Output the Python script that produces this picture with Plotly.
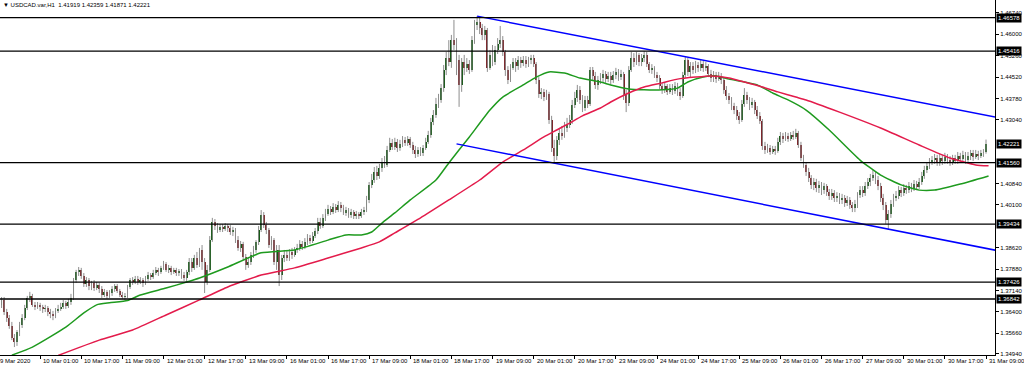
import plotly.graph_objects as go

# ---------------- data (USDCAD.var, H1) ----------------
open_ = [
1.3646,1.3664,1.3681,1.3639,1.3618,1.3591,1.3549,1.3535,1.3570,1.3594,
1.3618,1.3653,1.3688,1.3695,1.3664,1.3657,1.3664,1.3657,1.3650,1.3653,
1.3639,1.3632,1.3625,1.3643,1.3650,1.3657,1.3671,1.3660,1.3674,1.3688,
1.3750,1.3778,1.3785,1.3764,1.3736,1.3750,1.3729,1.3740,1.3722,1.3733,
1.3719,1.3698,1.3709,1.3695,1.3705,1.3719,1.3729,1.3712,1.3698,1.3691,
1.3695,1.3726,1.3750,1.3743,1.3754,1.3743,1.3750,1.3740,1.3754,1.3767,
1.3760,1.3774,1.3785,1.3778,1.3792,1.3805,1.3785,1.3792,1.3778,1.3785,
1.3774,1.3781,1.3767,1.3757,1.3778,1.3812,1.3792,1.3826,1.3802,1.3854,
1.3812,1.3743,1.3785,1.3888,1.3951,1.3937,1.3923,1.3934,1.3927,1.3937,
1.3930,1.3916,1.3923,1.3888,1.3861,1.3875,1.3830,1.3802,1.3812,1.3837,
1.3854,1.3882,1.3923,1.3975,1.3940,1.3923,1.3871,1.3888,1.3812,1.3854,
1.3767,1.3826,1.3837,1.3826,1.3847,1.3837,1.3854,1.3861,1.3875,1.3864,
1.3882,1.3895,1.3885,1.3902,1.3920,1.3951,1.3937,1.3965,1.3978,1.3996,
1.3985,1.4003,1.3992,1.4010,1.3999,1.3982,1.3992,1.3975,1.3985,1.3972,
1.3978,1.3972,1.3985,1.3992,1.4027,1.4079,1.4096,1.4124,1.4110,1.4138,
1.4158,1.4148,1.4200,1.4224,1.4210,1.4228,1.4207,1.4221,1.4235,1.4224,
1.4238,1.4217,1.4200,1.4186,1.4200,1.4190,1.4207,1.4228,1.4252,1.4297,
1.4321,1.4359,1.4373,1.4414,1.4477,1.4518,1.4504,1.4580,1.4563,1.4511,
1.4425,1.4504,1.4484,1.4497,1.4477,1.4580,1.4632,1.4643,1.4622,1.4598,
1.4615,1.4484,1.4529,1.4504,1.4546,1.4567,1.4580,1.4539,1.4477,1.4442,
1.4484,1.4504,1.4490,1.4511,1.4501,1.4511,1.4497,1.4511,1.4518,1.4497,
1.4442,1.4394,1.4401,1.4383,1.4394,1.4304,1.4207,1.4179,1.4235,1.4259,
1.4248,1.4276,1.4286,1.4304,1.4356,1.4380,1.4408,1.4373,1.4345,1.4373,
1.4359,1.4477,1.4456,1.4425,1.4442,1.4449,1.4463,1.4445,1.4456,1.4442,
1.4459,1.4470,1.4452,1.4463,1.4390,1.4363,1.4477,1.4518,1.4504,1.4529,
1.4504,1.4518,1.4529,1.4497,1.4477,1.4484,1.4459,1.4449,1.4421,1.4408,
1.4421,1.4401,1.4414,1.4404,1.4421,1.4401,1.4387,1.4459,1.4511,1.4470,
1.4490,1.4477,1.4494,1.4484,1.4497,1.4484,1.4490,1.4463,1.4449,1.4459,
1.4445,1.4456,1.4442,1.4408,1.4387,1.4373,1.4352,1.4338,1.4318,1.4304,
1.4359,1.4390,1.4373,1.4356,1.4366,1.4338,1.4318,1.4300,1.4214,1.4200,
1.4207,1.4193,1.4203,1.4197,1.4228,1.4248,1.4238,1.4248,1.4238,1.4252,
1.4245,1.4259,1.4217,1.4172,1.4148,1.4124,1.4103,1.4079,1.4089,1.4068,
1.4079,1.4061,1.4075,1.4054,1.4041,1.4051,1.4034,1.4041,1.4027,1.4034,
1.4016,1.4027,1.4010,1.3999,1.4013,1.4044,1.4061,1.4051,1.4075,1.4089,
1.4103,1.4113,1.4096,1.4075,1.4034,1.4010,1.3958,1.3978,1.4013,1.4034,
1.4041,1.4061,1.4051,1.4068,1.4061,1.4075,1.4065,1.4082,1.4072,1.4089,
1.4110,1.4131,1.4145,1.4158,1.4165,1.4172,1.4155,1.4172,1.4162,1.4176,
1.4165,1.4155,1.4172,1.4162,1.4179,1.4169,1.4183,1.4165,1.4179,1.4190,
1.4176,1.4186,1.4179,1.4190,1.41919]

high = [
1.3681,1.3691,1.3691,1.3650,1.3629,1.3605,1.3563,1.3577,1.3605,1.3632,
1.3664,1.3695,1.3709,1.3702,1.3674,1.3674,1.3671,1.3664,1.3664,1.3660,
1.3650,1.3643,1.3653,1.3664,1.3671,1.3681,1.3678,1.3685,1.3702,1.3757,
1.3785,1.3795,1.3792,1.3774,1.3760,1.3757,1.3747,1.3750,1.3743,1.3740,
1.3729,1.3719,1.3715,1.3715,1.3729,1.3736,1.3736,1.3719,1.3709,1.3705,
1.3733,1.3757,1.3760,1.3764,1.3764,1.3760,1.3757,1.3764,1.3778,1.3774,
1.3785,1.3795,1.3792,1.3799,1.3816,1.3812,1.3802,1.3799,1.3792,1.3792,
1.3788,1.3788,1.3778,1.3785,1.3826,1.3826,1.3837,1.3847,1.3861,1.3871,
1.3826,1.3802,1.3902,1.3965,1.3961,1.3947,1.3944,1.3944,1.3947,1.3944,
1.3940,1.3934,1.3930,1.3902,1.3885,1.3882,1.3840,1.3826,1.3847,1.3868,
1.3888,1.3937,1.3992,1.3985,1.3951,1.3930,1.3902,1.3895,1.3871,1.3871,
1.3837,1.3854,1.3851,1.3857,1.3861,1.3864,1.3875,1.3888,1.3885,1.3895,
1.3909,1.3906,1.3916,1.3930,1.3965,1.3965,1.3978,1.3996,1.4010,1.4006,
1.4016,1.4013,1.4023,1.4020,1.4010,1.4003,1.3999,1.3996,1.3992,1.3989,
1.3985,1.3996,1.4003,1.4041,1.4089,1.4117,1.4141,1.4145,1.4152,1.4172,
1.4179,1.4214,1.4242,1.4238,1.4242,1.4238,1.4235,1.4248,1.4245,1.4248,
1.4245,1.4228,1.4214,1.4210,1.4210,1.4217,1.4242,1.4266,1.4311,1.4338,
1.4380,1.4394,1.4428,1.4494,1.4539,1.4580,1.4598,1.4650,1.4587,1.4529,
1.4518,1.4529,1.4518,1.4511,1.4594,1.4650,1.4663,1.4660,1.4636,1.4629,
1.4622,1.4546,1.4563,1.4560,1.4587,1.4629,1.4594,1.4546,1.4490,1.4497,
1.4518,1.4518,1.4525,1.4522,1.4525,1.4525,1.4522,1.4529,1.4529,1.4504,
1.4452,1.4414,1.4411,1.4408,1.4401,1.4318,1.4235,1.4248,1.4276,1.4283,
1.4297,1.4311,1.4321,1.4373,1.4401,1.4425,1.4421,1.4390,1.4387,1.4387,
1.4487,1.4487,1.4470,1.4456,1.4466,1.4477,1.4473,1.4470,1.4470,1.4473,
1.4484,1.4480,1.4477,1.4470,1.4408,1.4490,1.4539,1.4535,1.4539,1.4535,
1.4532,1.4542,1.4539,1.4504,1.4497,1.4490,1.4470,1.4459,1.4432,1.4435,
1.4428,1.4428,1.4428,1.4435,1.4432,1.4414,1.4470,1.4525,1.4518,1.4504,
1.4504,1.4508,1.4504,1.4511,1.4508,1.4504,1.4497,1.4477,1.4473,1.4470,
1.4470,1.4466,1.4449,1.4421,1.4397,1.4383,1.4363,1.4352,1.4331,1.4373,
1.4414,1.4401,1.4383,1.4380,1.4373,1.4352,1.4331,1.4307,1.4228,1.4221,
1.4217,1.4214,1.4214,1.4242,1.4262,1.4259,1.4262,1.4259,1.4262,1.4266,
1.4273,1.4266,1.4228,1.4183,1.4158,1.4138,1.4113,1.4103,1.4100,1.4093,
1.4089,1.4086,1.4082,1.4065,1.4065,1.4061,1.4054,1.4051,1.4048,1.4044,
1.4041,1.4037,1.4020,1.4027,1.4054,1.4075,1.4075,1.4089,1.4103,1.4117,
1.4131,1.4127,1.4110,1.4086,1.4048,1.4020,1.3992,1.4027,1.4048,1.4058,
1.4075,1.4072,1.4082,1.4079,1.4089,1.4086,1.4096,1.4093,1.4103,1.4124,
1.4145,1.4158,1.4172,1.4179,1.4186,1.4183,1.4186,1.4183,1.4190,1.4186,
1.4179,1.4183,1.4183,1.4193,1.4190,1.4197,1.4193,1.4193,1.4200,1.4200,
1.4200,1.4197,1.4200,1.4203,1.42359]

low = [
1.3632,1.3653,1.3629,1.3605,1.3581,1.3542,1.3518,1.3522,1.3556,1.3584,
1.3611,1.3646,1.3674,1.3657,1.3646,1.3650,1.3643,1.3636,1.3639,1.3625,
1.3618,1.3611,1.3618,1.3636,1.3643,1.3650,1.3650,1.3653,1.3664,1.3681,
1.3740,1.3764,1.3754,1.3726,1.3726,1.3715,1.3715,1.3712,1.3715,1.3705,
1.3688,1.3691,1.3685,1.3688,1.3695,1.3709,1.3705,1.3691,1.3685,1.3681,
1.3688,1.3719,1.3733,1.3736,1.3733,1.3736,1.3726,1.3733,1.3747,1.3750,
1.3754,1.3767,1.3764,1.3771,1.3785,1.3778,1.3774,1.3767,1.3771,1.3764,
1.3764,1.3754,1.3747,1.3743,1.3767,1.3778,1.3785,1.3792,1.3795,1.3785,
1.3705,1.3733,1.3778,1.3882,1.3923,1.3913,1.3916,1.3916,1.3920,1.3916,
1.3906,1.3902,1.3878,1.3851,1.3847,1.3819,1.3785,1.3792,1.3802,1.3826,
1.3844,1.3871,1.3916,1.3930,1.3909,1.3861,1.3854,1.3802,1.3785,1.3729,
1.3750,1.3812,1.3816,1.3816,1.3823,1.3830,1.3844,1.3851,1.3854,1.3857,
1.3871,1.3875,1.3878,1.3895,1.3909,1.3927,1.3930,1.3954,1.3972,1.3975,
1.3978,1.3982,1.3985,1.3985,1.3975,1.3972,1.3965,1.3965,1.3961,1.3961,
1.3961,1.3965,1.3975,1.3985,1.4016,1.4068,1.4086,1.4096,1.4100,1.4124,
1.4138,1.4141,1.4193,1.4200,1.4200,1.4193,1.4197,1.4210,1.4214,1.4214,
1.4207,1.4186,1.4172,1.4176,1.4179,1.4179,1.4200,1.4221,1.4242,1.4286,
1.4311,1.4345,1.4363,1.4401,1.4459,1.4490,1.4484,1.4546,1.4459,1.4349,
1.4401,1.4459,1.4470,1.4463,1.4470,1.4567,1.4615,1.4601,1.4580,1.4580,
1.4470,1.4477,1.4490,1.4494,1.4532,1.4553,1.4525,1.4456,1.4428,1.4435,
1.4477,1.4470,1.4477,1.4484,1.4490,1.4484,1.4487,1.4497,1.4487,1.4428,
1.4380,1.4376,1.4369,1.4373,1.4290,1.4193,1.4152,1.4165,1.4217,1.4235,
1.4242,1.4262,1.4276,1.4290,1.4345,1.4366,1.4359,1.4331,1.4335,1.4345,
1.4352,1.4442,1.4411,1.4408,1.4428,1.4435,1.4432,1.4435,1.4428,1.4432,
1.4445,1.4439,1.4442,1.4373,1.4331,1.4352,1.4470,1.4487,1.4494,1.4490,
1.4490,1.4504,1.4487,1.4466,1.4463,1.4449,1.4435,1.4411,1.4394,1.4397,
1.4390,1.4394,1.4390,1.4394,1.4387,1.4373,1.4380,1.4449,1.4456,1.4452,
1.4463,1.4466,1.4470,1.4473,1.4470,1.4473,1.4452,1.4435,1.4435,1.4432,
1.4439,1.4428,1.4394,1.4373,1.4359,1.4338,1.4324,1.4304,1.4290,1.4297,
1.4349,1.4359,1.4338,1.4345,1.4324,1.4307,1.4290,1.4200,1.4186,1.4190,
1.4183,1.4186,1.4183,1.4190,1.4217,1.4224,1.4231,1.4228,1.4231,1.4235,
1.4238,1.4207,1.4162,1.4138,1.4110,1.4089,1.4065,1.4061,1.4054,1.4051,
1.4044,1.4048,1.4041,1.4027,1.4027,1.4020,1.4020,1.4013,1.4013,1.4003,
1.4006,1.3996,1.3985,1.3985,1.3999,1.4034,1.4037,1.4041,1.4065,1.4075,
1.4093,1.4082,1.4061,1.4020,1.3992,1.3944,1.3923,1.3965,1.4003,1.4023,
1.4030,1.4037,1.4041,1.4048,1.4051,1.4054,1.4058,1.4061,1.4065,1.4079,
1.4100,1.4120,1.4134,1.4148,1.4152,1.4145,1.4145,1.4148,1.4152,1.4152,
1.4145,1.4148,1.4152,1.4152,1.4155,1.4158,1.4152,1.4155,1.4165,1.4162,
1.4169,1.4165,1.4172,1.4176,1.41871]

close = [
1.3664,1.3681,1.3639,1.3618,1.3591,1.3549,1.3535,1.3570,1.3594,1.3618,
1.3653,1.3688,1.3695,1.3664,1.3657,1.3664,1.3657,1.3650,1.3653,1.3639,
1.3632,1.3625,1.3643,1.3650,1.3657,1.3671,1.3660,1.3674,1.3688,1.3750,
1.3778,1.3785,1.3764,1.3736,1.3750,1.3729,1.3740,1.3722,1.3733,1.3719,
1.3698,1.3709,1.3695,1.3705,1.3719,1.3729,1.3712,1.3698,1.3691,1.3695,
1.3726,1.3750,1.3743,1.3754,1.3743,1.3750,1.3740,1.3754,1.3767,1.3760,
1.3774,1.3785,1.3778,1.3792,1.3805,1.3785,1.3792,1.3778,1.3785,1.3774,
1.3781,1.3767,1.3757,1.3778,1.3812,1.3792,1.3826,1.3802,1.3854,1.3812,
1.3743,1.3785,1.3888,1.3951,1.3937,1.3923,1.3934,1.3927,1.3937,1.3930,
1.3916,1.3923,1.3888,1.3861,1.3875,1.3830,1.3802,1.3812,1.3837,1.3854,
1.3882,1.3923,1.3975,1.3940,1.3923,1.3871,1.3888,1.3812,1.3854,1.3767,
1.3826,1.3837,1.3826,1.3847,1.3837,1.3854,1.3861,1.3875,1.3864,1.3882,
1.3895,1.3885,1.3902,1.3920,1.3951,1.3937,1.3965,1.3978,1.3996,1.3985,
1.4003,1.3992,1.4010,1.3999,1.3982,1.3992,1.3975,1.3985,1.3972,1.3978,
1.3972,1.3985,1.3992,1.4027,1.4079,1.4096,1.4124,1.4110,1.4138,1.4158,
1.4148,1.4200,1.4224,1.4210,1.4228,1.4207,1.4221,1.4235,1.4224,1.4238,
1.4217,1.4200,1.4186,1.4200,1.4190,1.4207,1.4228,1.4252,1.4297,1.4321,
1.4359,1.4373,1.4414,1.4477,1.4518,1.4504,1.4580,1.4563,1.4511,1.4425,
1.4504,1.4484,1.4497,1.4477,1.4580,1.4632,1.4643,1.4622,1.4598,1.4615,
1.4484,1.4529,1.4504,1.4546,1.4567,1.4580,1.4539,1.4477,1.4442,1.4484,
1.4504,1.4490,1.4511,1.4501,1.4511,1.4497,1.4511,1.4518,1.4497,1.4442,
1.4394,1.4401,1.4383,1.4394,1.4304,1.4207,1.4179,1.4235,1.4259,1.4248,
1.4276,1.4286,1.4304,1.4356,1.4380,1.4408,1.4373,1.4345,1.4373,1.4359,
1.4477,1.4456,1.4425,1.4442,1.4449,1.4463,1.4445,1.4456,1.4442,1.4459,
1.4470,1.4452,1.4463,1.4390,1.4363,1.4477,1.4518,1.4504,1.4529,1.4504,
1.4518,1.4529,1.4497,1.4477,1.4484,1.4459,1.4449,1.4421,1.4408,1.4421,
1.4401,1.4414,1.4404,1.4421,1.4401,1.4387,1.4459,1.4511,1.4470,1.4490,
1.4477,1.4494,1.4484,1.4497,1.4484,1.4490,1.4463,1.4449,1.4459,1.4445,
1.4456,1.4442,1.4408,1.4387,1.4373,1.4352,1.4338,1.4318,1.4304,1.4359,
1.4390,1.4373,1.4356,1.4366,1.4338,1.4318,1.4300,1.4214,1.4200,1.4207,
1.4193,1.4203,1.4197,1.4228,1.4248,1.4238,1.4248,1.4238,1.4252,1.4245,
1.4259,1.4217,1.4172,1.4148,1.4124,1.4103,1.4079,1.4089,1.4068,1.4079,
1.4061,1.4075,1.4054,1.4041,1.4051,1.4034,1.4041,1.4027,1.4034,1.4016,
1.4027,1.4010,1.3999,1.4013,1.4044,1.4061,1.4051,1.4075,1.4089,1.4103,
1.4113,1.4096,1.4075,1.4034,1.4010,1.3958,1.3978,1.4013,1.4034,1.4041,
1.4061,1.4051,1.4068,1.4061,1.4075,1.4065,1.4082,1.4072,1.4089,1.4110,
1.4131,1.4145,1.4158,1.4165,1.4172,1.4155,1.4172,1.4162,1.4176,1.4165,
1.4155,1.4172,1.4162,1.4179,1.4169,1.4183,1.4165,1.4179,1.4190,1.4176,
1.4186,1.4179,1.4190,1.41919,1.42221]

# moving averages (bar index, price)
ma_green_bar = [5,13,26,33,38,43,50,55,65,73,78,89,102,115,128,135,141,145,149,154,
                160,170,175,183,191,196,204,209,214,220,226,234,238,245,251,258,264,
                268,274,279,284,290,295,301,307,314,323,335,343,351,358,364,374,385]
ma_green = [1.3490,1.3518,1.3587,1.3636,1.3664,1.3671,1.3679,1.3698,1.3722,1.3743,
            1.3757,1.3795,1.3844,1.3854,1.3888,1.3906,1.3906,1.3916,1.3947,1.3982,
            1.4027,1.4096,1.4155,1.4245,1.4338,1.4383,1.4425,1.4452,1.4470,1.4466,
            1.4449,1.4435,1.4425,1.4411,1.4408,1.4408,1.4414,1.4435,1.4452,1.4456,
            1.4445,1.4435,1.4425,1.4397,1.4373,1.4338,1.4269,1.4165,1.4113,1.4079,
            1.4061,1.4061,1.4082,1.4110]
ma_red_bar = [23,39,52,65,78,89,102,115,128,141,148,154,164,175,187,196,204,212,217,
              222,227,234,238,245,251,258,264,271,277,284,290,297,303,310,314,327,
              343,358,370,380,385]
ma_red = [1.3489,1.3542,1.3577,1.3629,1.3681,1.3726,1.3767,1.3792,1.3826,1.3861,
          1.3882,1.3913,1.3965,1.4027,1.4096,1.4158,1.4200,1.4245,1.4269,1.4293,
          1.4318,1.4345,1.4366,1.4397,1.4418,1.4432,1.4445,1.4452,1.4456,1.4449,
          1.4435,1.4418,1.4401,1.4383,1.4373,1.4331,1.4276,1.4217,1.4172,1.4148,
          1.4145]

# trend channel (bar index, price)
trend_upper_bar = [186, 390]
trend_upper = [1.4663, 1.4310]
trend_lower_bar = [178, 390]
trend_lower = [1.4221, 1.3849]

# horizontal levels
levels = [1.46578, 1.45416, 1.41560, 1.39434, 1.37426, 1.36842]
last_price = 1.42221

# axis labels
time_tick_bars = [0,16,32,48,64,80,96,112,128,144,160,176,192,208,224,240,256,272,
                  288,304,320,336,352,368,384]
time_tick_labels = ["9 Mar 2020","10 Mar 01:00","10 Mar 17:00","11 Mar 09:00",
                    "12 Mar 01:00","12 Mar 17:00","13 Mar 09:00","16 Mar 01:00",
                    "16 Mar 17:00","17 Mar 09:00","18 Mar 01:00","18 Mar 17:00",
                    "19 Mar 09:00","20 Mar 01:00","20 Mar 17:00","23 Mar 09:00",
                    "24 Mar 01:00","24 Mar 17:00","25 Mar 09:00","26 Mar 01:00",
                    "26 Mar 17:00","27 Mar 09:00","30 Mar 01:00","30 Mar 17:00",
                    "31 Mar 09:00"]
price_ticks = [1.34940,1.35660,1.36400,1.37140,1.37880,1.38620,1.40100,1.40840,
               1.43040,1.43780,1.44520,1.45260,1.46000,1.46740]

title_text = "\u25BC USDCAD.var,H1\u00a0\u00a01.41919 1.42359 1.41871 1.42221"

# ---------------- figure ----------------
FONT = "Liberation Sans, Arial, sans-serif"
n = min(len(open_), len(high), len(low), len(close))
bars = list(range(n))

wx, wy = [], []
for i in bars:
    wx += [i, i, None]
    wy += [low[i], high[i], None]

body_base = [min(open_[i], close[i]) for i in bars]
body_h = [max(abs(close[i] - open_[i]), 0.0003) for i in bars]
body_col = ["#0a540a" if close[i] >= open_[i] else "#7a1a1f" for i in bars]

fig = go.Figure()
fig.add_trace(go.Scatter(x=wx, y=wy, mode="lines",
                         line=dict(color="#8e8e8e", width=1), hoverinfo="skip"))
fig.add_trace(go.Bar(x=bars, y=body_h, base=body_base, width=0.72,
                     marker=dict(color=body_col, line=dict(width=0))))
fig.add_trace(go.Scatter(x=ma_green_bar, y=ma_green, mode="lines",
                         line=dict(color="#1e9a1e", width=1.5, shape="spline", smoothing=0.5)))
fig.add_trace(go.Scatter(x=ma_red_bar, y=ma_red, mode="lines",
                         line=dict(color="#e31b4b", width=1.5, shape="spline", smoothing=0.5)))
fig.add_trace(go.Scatter(x=trend_upper_bar, y=trend_upper, mode="lines",
                         line=dict(color="#0000ff", width=1.5)))
fig.add_trace(go.Scatter(x=trend_lower_bar, y=trend_lower, mode="lines",
                         line=dict(color="#0000ff", width=1.5)))

shapes = []
for lv in levels:
    shapes.append(dict(type="line", xref="paper", x0=0, x1=1, yref="y", y0=lv, y1=lv,
                       line=dict(color="#000000", width=1.3)))

annotations = []
for lv in levels + [last_price]:
    annotations.append(dict(x=1, xref="paper", y=lv, yref="y", xanchor="left",
                            yanchor="middle", xshift=1, showarrow=False,
                            text=f"{lv:.5f}", bgcolor="#000000", borderpad=1,
                            font=dict(family=FONT, size=6, color="#ffffff")))
for b, lab in zip(time_tick_bars, time_tick_labels):
    if b == 0:
        annotations.append(dict(x=0, xref="paper", y=0, yref="paper", xanchor="left",
                                yanchor="top", xshift=-2, yshift=-1, showarrow=False,
                                text=lab, font=dict(family=FONT, size=6, color="#000")))
    else:
        annotations.append(dict(x=b, xref="x", y=0, yref="paper", xanchor="left",
                                yanchor="top", xshift=1, yshift=-1, showarrow=False,
                                text=lab, font=dict(family=FONT, size=6, color="#000")))
annotations.append(dict(x=0, xref="paper", y=1, yref="paper", xanchor="left",
                        yanchor="top", xshift=1, yshift=0, showarrow=False,
                        text=title_text, font=dict(family=FONT, size=6, color="#000")))

fig.update_layout(
    width=1024, height=366, autosize=False,
    margin=dict(l=0, r=29, t=0, b=11, pad=0),
    paper_bgcolor="#ffffff", plot_bgcolor="#ffffff",
    showlegend=False, barmode="overlay", bargap=0,
    shapes=shapes, annotations=annotations,
    font=dict(family=FONT, size=6, color="#000"),
    xaxis=dict(range=[0.39, 387.5], showgrid=False, zeroline=False,
               showline=True, linecolor="#000", linewidth=1,
               tickmode="array", tickvals=time_tick_bars, showticklabels=False,
               ticks="outside", ticklen=3, tickcolor="#000", fixedrange=True),
    yaxis=dict(range=[1.34905, 1.47188], side="right", showgrid=False, zeroline=False,
               showline=True, linecolor="#000", linewidth=1,
               tickmode="array", tickvals=price_ticks,
               ticktext=[f"{p:.5f}" for p in price_ticks],
               ticks="outside", ticklen=3, tickcolor="#000",
               tickfont=dict(family=FONT, size=6, color="#000"), fixedrange=True),
)

fig.write_html("out.html",
               config={"displayModeBar": False, "staticPlot": True},
               post_script="document.body.style.margin='0';document.body.style.overflow='hidden';")
